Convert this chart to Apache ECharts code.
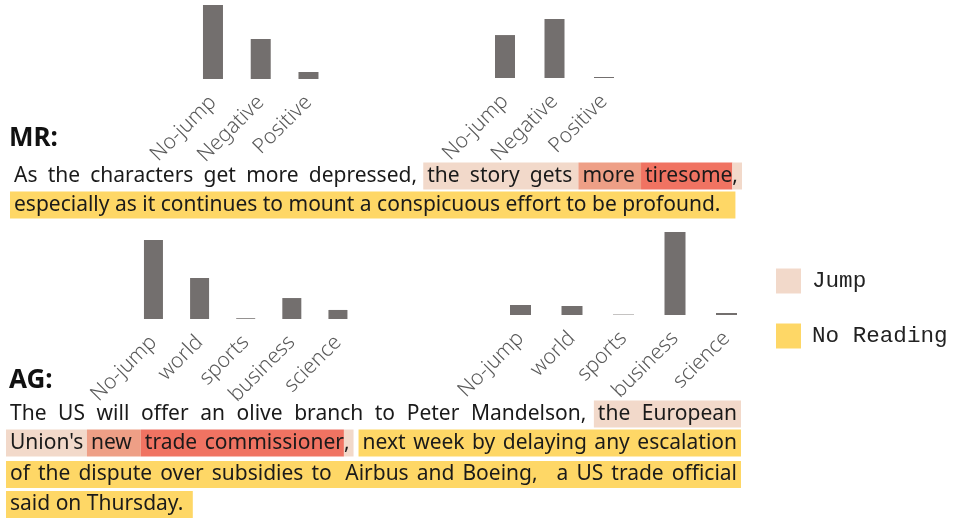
<!DOCTYPE html>
<html><head><meta charset="utf-8">
<script src="https://cdn.jsdelivr.net/npm/echarts@6/dist/echarts.min.js"></script>
<style>html,body{margin:0;padding:0;background:#fff}#c{width:953px;height:520px}</style>
</head><body><div id="c"></div>
<script>
// ---------- data ----------
const catsMR = ['No-jump', 'Negative', 'Positive'];
const catsAG = ['No-jump', 'world', 'sports', 'business', 'science'];
const mrLeftVals  = [0.612, 0.331, 0.058];
const mrRightVals = [0.417, 0.573, 0.010];
const agLeftVals  = [0.524, 0.272, 0.005, 0.139, 0.060];
const agRightVals = [0.096, 0.086, 0.004, 0.795, 0.019];

const mrTitle = 'MR:';
const agTitle = 'AG:';
// text segments: [text, highlight class]
const mrLines = [
  [["As the characters get more depressed, ", null], ["the story gets ", 'J'], ["more ", 'M'], ["tiresome", 'H'], [",", 'J']],
  [["especially as it continues to mount a conspicuous effort to be profound.  ", 'Y']]
];
const agLines = [
  [["The US will offer an olive branch to Peter Mandelson, ", null], ["the European", 'J']],
  [["Union's ", 'J'], ["new  ", 'M'], ["trade commissioner", 'H'], [",", 'J'], ["  ", null], ["next week by delaying any escalation", 'Y']],
  [["of the dispute over subsidies to  Airbus and Boeing,   a US trade official", 'Y']],
  [["said on Thursday. ", 'Y']]
];
const legendNames = ['Jump', 'No Reading'];

// ---------- styles / layout ----------
const COLORS = { J: '#f2d9ca', Y: '#fed766', M: '#ee9f86', H: '#f07362' };
const BAR = '#736f6e';
const BODY_FONT = '21px "Noto Sans"';
const PAD = 4;

const gridsCfg = [
  { left: 189.1, width: 143.25, top: 5, height: 74, cats: catsMR, vals: mrLeftVals, bw: 20 },
  { left: 480.25, width: 148.5, top: 19, height: 59, cats: catsMR, vals: mrRightVals, bw: 20 },
  { left: 130.4, width: 230.6, top: 240, height: 79, cats: catsAG, vals: agLeftVals, bw: 19 },
  { left: 494.75, width: 257.5, top: 232, height: 83, cats: catsAG, vals: agRightVals, bw: 21 }
];

const ctx = document.createElement('canvas').getContext('2d');
const graphics = [];

function layoutLine(segs, x0, x1, yc, justify) {
  ctx.font = BODY_FONT;
  const spaceW = ctx.measureText(' ').width;
  const toks = [];
  segs.forEach((s, si) => {
    (s[0].match(/ +|[^ ]+/g) || []).forEach(p => {
      const sp = p[0] === ' ';
      toks.push({ t: p, si, sp, w: sp ? p.length * spaceW : ctx.measureText(p).width });
    });
  });
  let fw = toks.findIndex(t => !t.sp), lw = -1;
  toks.forEach((t, i) => { if (!t.sp) lw = i; });
  let nat = 0, gaps = 0;
  for (let i = fw; i <= lw; i++) { nat += toks[i].w; if (toks[i].sp) gaps++; }
  const extra = justify && gaps ? (x1 - x0 - nat) / gaps : 0;
  let x = x0;
  toks.forEach((t, i) => {
    if (t.sp && i > fw && i < lw) t.w += extra;
    t.x = x; x += t.w;
  });
  const segInfo = segs.map((s, si) => {
    const ts = toks.filter(t => t.si === si);
    return { ts, start: ts[0].x, end: ts[ts.length - 1].x + ts[ts.length - 1].w, lastIsSpace: ts[ts.length - 1].sp };
  });
  const boundary = (si) => {
    const prev = segInfo[si - 1];
    return prev.lastIsSpace ? segInfo[si].start - PAD : segInfo[si].start;
  };
  segs.forEach((s, si) => {
    if (!s[1]) return;
    const prevBg = si > 0 && segs[si - 1][1];
    const nextBg = si < segs.length - 1 && segs[si + 1][1];
    const a = prevBg ? boundary(si) : segInfo[si].start - PAD;
    const b = nextBg ? boundary(si + 1) : segInfo[si].end + PAD;
    graphics.push({ type: 'rect', z: 1, silent: true,
      shape: { x: a, y: yc - 13.5, width: b - a, height: 27 },
      style: { fill: COLORS[s[1]] } });
  });
  toks.forEach(t => {
    if (t.sp) return;
    graphics.push({ type: 'text', z: 5, silent: true, x: t.x, y: yc,
      style: { text: t.t, font: BODY_FONT, fill: '#1a1a1a', align: 'left', verticalAlign: 'middle',
               textAlign: 'left', textVerticalAlign: 'middle' } });
  });
}

const mrLayout = [{ y: 176, x0: 14, x1: 738, j: true }, { y: 205, x0: 14, x1: 738, j: false }];
const agLayout = [{ y: 414, x0: 10, x1: 737, j: true }, { y: 443, x0: 10, x1: 737, j: true },
                  { y: 474.5, x0: 10, x1: 737, j: true }, { y: 504.5, x0: 10, x1: 737, j: false }];
mrLines.forEach((l, i) => layoutLine(l, mrLayout[i].x0, mrLayout[i].x1, mrLayout[i].y, mrLayout[i].j));
agLines.forEach((l, i) => layoutLine(l, agLayout[i].x0, agLayout[i].x1, agLayout[i].y, agLayout[i].j));

[[mrTitle, 139], [agTitle, 381]].forEach(([t, y]) => graphics.push({
  type: 'text', z: 5, silent: true, x: 9, y,
  style: { text: t, font: 'bold 26px "Noto Sans"', fill: '#111', align: 'left', verticalAlign: 'middle',
           textAlign: 'left', textVerticalAlign: 'middle' } }));

[[legendNames[0], COLORS.J, 281], [legendNames[1], COLORS.Y, 336]].forEach(([t, c, y]) => {
  graphics.push({ type: 'rect', silent: true, shape: { x: 776, y: y - 12.5, width: 25, height: 25 }, style: { fill: c } });
  graphics.push({ type: 'text', silent: true, x: 812, y,
    style: { text: t, font: '22.6px "Courier New", "Liberation Mono", monospace', fill: '#222', align: 'left', verticalAlign: 'middle',
             textAlign: 'left', textVerticalAlign: 'middle' } });
});

const option = {
  animation: false,
  grid: gridsCfg.map(g => ({ left: g.left, width: g.width, top: g.top, height: g.height })),
  xAxis: gridsCfg.map((g, i) => ({
    type: 'category', gridIndex: i, data: g.cats,
    axisLine: { show: false }, axisTick: { show: false }, splitLine: { show: false },
    axisLabel: { interval: 0, rotate: 45, margin: 20, align: 'right', verticalAlign: 'middle',
      fontSize: 21, fontFamily: 'Noto Sans', fontWeight: 300, color: '#5a5a5a' }
  })),
  yAxis: gridsCfg.map((g, i) => ({ type: 'value', gridIndex: i, show: false, min: 0, max: 'dataMax' })),
  series: gridsCfg.map((g, i) => ({
    type: 'bar', xAxisIndex: i, yAxisIndex: i, data: g.vals, barWidth: g.bw,
    itemStyle: { color: BAR }, silent: true
  })),
  graphic: graphics
};
const chart = echarts.init(document.getElementById('c'), null, { renderer: 'canvas' });
chart.setOption(option);
</script>
</body></html>
